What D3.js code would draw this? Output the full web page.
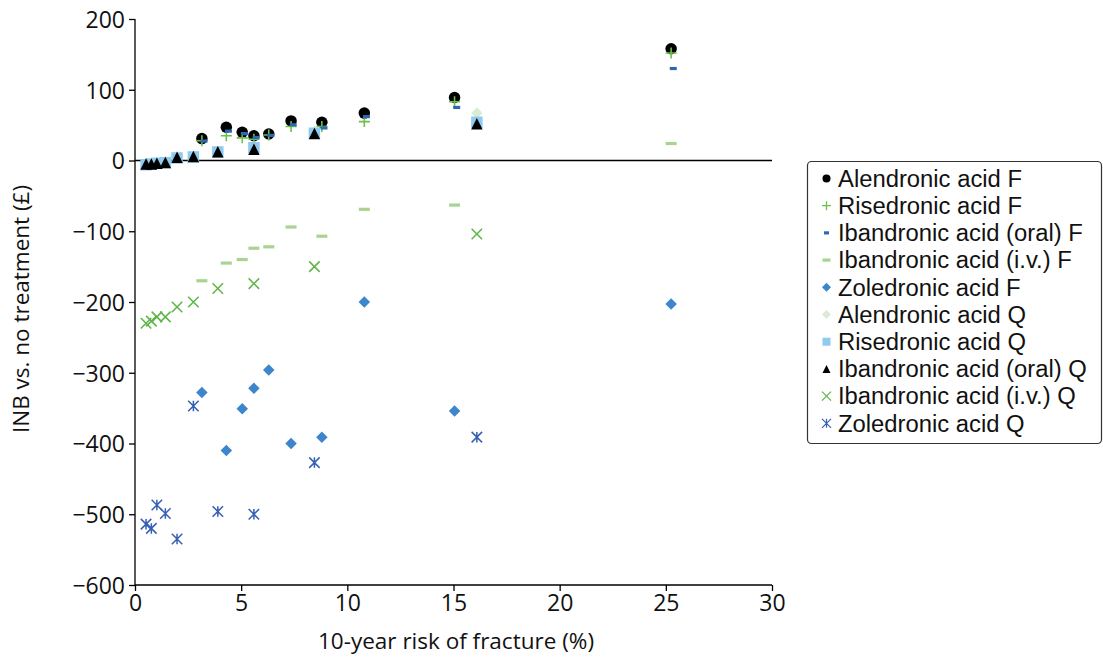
<!DOCTYPE html>
<html>
<head>
<meta charset="utf-8">
<script src="https://cdn.jsdelivr.net/npm/d3@7"></script>
<style>
  html, body { margin: 0; padding: 0; background: #fff; }
  svg { display: block; }
  text { font-family: "Open Sans", "Noto Sans", sans-serif; fill: #111; }
  .legend text { font-family: "Liberation Sans", Arial, sans-serif; }
</style>
</head>
<body>
<svg id="chart" width="1103" height="658"></svg>
<script>
// ---- data ----
const xF = [3.15, 4.3, 5.05, 5.6, 6.3, 7.35, 8.8, 10.8, 15.05, 25.25];
const xFOral = [3.25, 4.4, 5.15, 5.7, 6.4, 7.45, 8.9, 10.9, 15.15, 25.35];
const xQ = [0.52, 0.77, 1.03, 1.43, 1.98, 2.75, 3.9, 5.6, 8.45, 16.1];

const alendronicF = [31, 47, 40, 35, 37.5, 56, 54, 67, 89, 158];
const risedronicF = [28, 35, 32, 30, 36, 48, 48, 55, 83, 152];
const ibandronicOralF = [27.5, 41.5, 38, 32.5, 35.5, 50.5, 46, 62, 75, 130];
const ibandronicIvF = [-170, -145, -140, -124, -122, -94, -107, -69, -63, 24];
const zoledronicF = [-328, -410, -351, -322, -296, -400, -391, -200, -354, -203];
const alendronicQ = [-4, -4, -3, -2, 5, 6, 13, 19, 41, 67];
const risedronicQ = [-6, -5, -4, -3, 3.5, 5, 12, 18, 38.5, 54];
const ibandronicOralQ = [-5, -5, -4, -3, 4.5, 5.5, 12.5, 16, 38, 52];
const ibandronicIvQ = [-230, -227, -221, -221, -207, -200, -181, -174, -150, -104];
const zoledronicQ = [-514, -520, -487, -499, -535, -347, -496, -500, -427, -391];

const xTicks = [0, 5, 10, 15, 20, 25, 30];
const yTicks = [200, 100, 0, -100, -200, -300, -400, -500, -600];
const xTitle = "10-year risk of fracture (%)";
const yTitle = "INB vs. no treatment (£)";

const seriesNames = [
  "Alendronic acid F", "Risedronic acid F", "Ibandronic acid (oral) F",
  "Ibandronic acid (i.v.) F", "Zoledronic acid F", "Alendronic acid Q",
  "Risedronic acid Q", "Ibandronic acid (oral) Q", "Ibandronic acid (i.v.) Q",
  "Zoledronic acid Q"
];

// ---- marker shapes (path in local coords, s = size in px) ----
function circlePath(s) { const r = s / 2; return `M${r},0A${r},${r} 0 1,1 ${-r},0A${r},${r} 0 1,1 ${r},0Z`; }
function plusPath(s) { const h = s / 2; return `M${-h},0H${h}M0,${-h}V${h}`; }
function dashPath(w, h) { return `M${-w/2},${-h/2}H${w/2}V${h/2}H${-w/2}Z`; }
function diamondPath(s) { const h = s / 2; return `M0,${-h}L${h},0L0,${h}L${-h},0Z`; }
function squarePath(s) { const h = s / 2; return `M${-h},${-h}H${h}V${h}H${-h}Z`; }
function trianglePath(s) { const h = s / 2; return `M0,${-h}L${h},${h}L${-h},${h}Z`; }
function xPath(s) { const h = s / 2; return `M${-h},${-h}L${h},${h}M${-h},${h}L${h},${-h}`; }
function asteriskPath(s) { const h = s / 2; return `M${-h},${-h}L${h},${h}M${-h},${h}L${h},${-h}M0,${-h}V${h}`; }

const styles = [
  { shape: s => circlePath(s), size: 11.5, lsize: 8, fill: "#000", stroke: "none", sw: 0 },
  { shape: s => plusPath(s), size: 11, lsize: 9, fill: "none", stroke: "#6cc04a", sw: 1.6 },
  { shape: s => dashPath(s, 3.2), size: 7, lsize: 5, fill: "#2f68b2", stroke: "none", sw: 0 },
  { shape: s => dashPath(s, 3.2), size: 11, lsize: 8, fill: "#a9d48f", stroke: "none", sw: 0 },
  { shape: s => diamondPath(s), size: 11.5, lsize: 9, fill: "#3d86cb", stroke: "none", sw: 0 },
  { shape: s => diamondPath(s), size: 11.5, lsize: 9, fill: "#dcebd5", stroke: "none", sw: 0 },
  { shape: s => squarePath(s), size: 11.5, lsize: 8, fill: "#8fcbef", stroke: "none", sw: 0 },
  { shape: s => trianglePath(s), size: 11.5, lsize: 8, fill: "#000", stroke: "none", sw: 0 },
  { shape: s => xPath(s), size: 10.5, lsize: 9, fill: "none", stroke: "#5cb545", sw: 1.5 },
  { shape: s => asteriskPath(s), size: 10.5, lsize: 9, fill: "none", stroke: "#3560b3", sw: 1.5 }
];

const seriesData = [
  [xF, alendronicF], [xF, risedronicF], [xFOral, ibandronicOralF], [xF, ibandronicIvF],
  [xF, zoledronicF], [xQ, alendronicQ], [xQ, risedronicQ], [xQ, ibandronicOralQ],
  [xQ, ibandronicIvQ], [xQ, zoledronicQ]
];

// ---- layout ----
const svg = d3.select("#chart");
const plotL = 135, plotR = 772, plotT = 19, plotB = 585;
const x = d3.scaleLinear().domain([0, 30]).range([plotL, plotR]);
const y = d3.scaleLinear().domain([-600, 200]).range([plotB, plotT]);

const fontSize = 22.5;
const tickFont = 23;

// y axis
const yAxis = svg.append("g").attr("transform", `translate(${plotL},0)`)
  .call(d3.axisLeft(y).tickValues(yTicks).tickSize(6).tickPadding(4)
    .tickFormat(d => d < 0 ? "\u2212" + Math.abs(d) : String(d)));
yAxis.select(".domain").attr("stroke", "#000").attr("stroke-width", 1.3).attr("d", `M0,${plotT}V${plotB}`);
yAxis.selectAll(".tick line").attr("stroke", "#000").attr("stroke-width", 1.3);
yAxis.selectAll(".tick text").style("font-size", tickFont + "px").attr("dy", "0.36em").attr("fill", "#111");

// x axis
const xAxis = svg.append("g").attr("transform", `translate(0,${plotB})`)
  .call(d3.axisBottom(x).tickValues(xTicks).tickSize(6).tickPadding(4));
xAxis.select(".domain").attr("stroke", "#000").attr("stroke-width", 1.3).attr("d", `M${plotL},0H${plotR}`);
xAxis.selectAll(".tick line").attr("stroke", "#000").attr("stroke-width", 1.3);
xAxis.selectAll(".tick text").style("font-size", tickFont + "px").attr("fill", "#111");

// zero line
svg.append("line")
  .attr("x1", plotL).attr("x2", plotR)
  .attr("y1", y(0)).attr("y2", y(0))
  .attr("stroke", "#000").attr("stroke-width", 1.3);

// titles
svg.append("text").attr("x", 456).attr("y", 649)
  .attr("text-anchor", "middle").style("font-size", fontSize + "px").text(xTitle);
svg.append("text")
  .attr("transform", `translate(29,${309}) rotate(-90)`)
  .attr("text-anchor", "middle").style("font-size", fontSize + "px").text(yTitle);

// points
const plot = svg.append("g");
seriesData.forEach((sd, i) => {
  const st = styles[i];
  const pts = sd[0].map((xv, k) => [xv, sd[1][k]]);
  plot.append("g").selectAll("path").data(pts).join("path")
    .attr("transform", d => `translate(${x(d[0])},${y(d[1])})`)
    .attr("d", st.shape(st.size))
    .attr("fill", st.fill)
    .attr("stroke", st.stroke)
    .attr("stroke-width", st.sw);
});

// legend
const lg = svg.append("g").attr("class", "legend");
const lgX = 807, lgY = 161, lgW = 294, lgH = 282;
const rowGap = 27.2;
lg.append("rect").attr("x", lgX + 0.5).attr("y", lgY + 0.5).attr("width", lgW).attr("height", lgH)
  .attr("rx", 4).attr("fill", "#fff").attr("stroke", "#333").attr("stroke-width", 1.2);
const legendTexts = [];
seriesNames.forEach((name, i) => {
  const st = styles[i];
  const ry = 178.5 + i * rowGap;
  lg.append("path").attr("transform", `translate(826.5,${ry})`)
    .attr("d", st.shape(st.lsize)).attr("fill", st.fill).attr("stroke", st.stroke).attr("stroke-width", st.sw * 0.8);
  legendTexts.push(lg.append("text").attr("x", 838).attr("y", ry).attr("dy", "0.35em")
    .style("font-size", "20px").text(name));
});
// fit legend font: longest label ~249px wide, but rows must not overlap
let maxW = 0, maxH = 0;
legendTexts.forEach(t => { const b = t.node().getBBox(); maxW = Math.max(maxW, b.width); maxH = Math.max(maxH, b.height); });
const fs = Math.min(20 * 249 / maxW, 20 * (rowGap - 0.6) / maxH);
legendTexts.forEach(t => t.style("font-size", fs + "px"));
</script>
</body>
</html>
